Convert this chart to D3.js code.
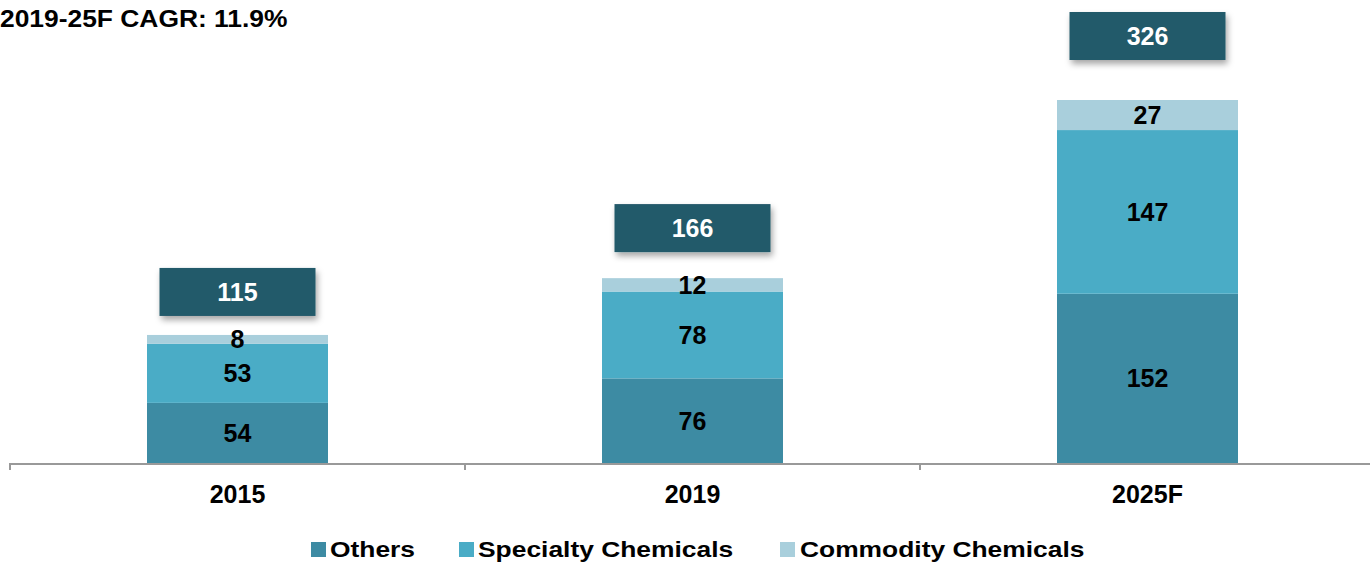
<!DOCTYPE html>
<html>
<head>
<meta charset="utf-8">
<script src="https://cdn.jsdelivr.net/npm/d3@7"></script>
<style>
  html, body { margin: 0; padding: 0; background: #fff; }
  svg { display: block; font-family: Arial, "Liberation Sans", sans-serif; }
</style>
</head>
<body>
<svg id="chart" width="1370" height="563"></svg>
<script>
// Market size by segment
const years = ["2015", "2019", "2025F"];
const others = [54, 76, 152];
const specialty = [53, 78, 147];
const commodity = [8, 12, 27];
const totals = [115, 166, 326];
const seriesNames = ["Others", "Specialty Chemicals", "Commodity Chemicals"];
const titleText = "2019-25F CAGR: 11.9%";

const colors = ["#3d8ba3", "#4aacc6", "#a9cfdc"];
const boxColor = "#225a6b";

const W = 1370, H = 563;
const baseY = 463;
const numSize = 25;

const svg = d3.select("#chart");

const defs = svg.append("defs");
const f = defs.append("filter").attr("id", "shadow")
  .attr("x", "-10%").attr("y", "-20%").attr("width", "130%").attr("height", "160%");
f.append("feDropShadow").attr("dx", 2).attr("dy", 4).attr("stdDeviation", 3)
  .attr("flood-color", "#000").attr("flood-opacity", 0.35);

const x = d3.scaleBand().domain(years).range([10, 1375])
  .paddingInner(0.6022).paddingOuter(0.3011);
const y = d3.scaleLinear().domain([0, 326]).range([baseY, 100]);

// stack the series
const rows = years.map((yr, i) => ({ year: yr, Others: others[i], Specialty: specialty[i], Commodity: commodity[i] }));
const keys = ["Others", "Specialty", "Commodity"];
const stacked = d3.stack().keys(keys)(rows);

const layers = svg.append("g").selectAll("g").data(stacked).join("g")
  .attr("fill", (d, i) => colors[i]);

layers.selectAll("rect").data(d => d).join("rect")
  .attr("x", d => x(d.data.year))
  .attr("width", x.bandwidth())
  .attr("y", d => y(d[1]))
  .attr("height", d => y(d[0]) - y(d[1]));

// segment value labels
stacked.forEach(layer => {
  svg.append("g").selectAll("text").data(layer).join("text")
    .attr("x", d => x(d.data.year) + x.bandwidth() / 2)
    .attr("y", d => (y(d[0]) + y(d[1])) / 2)
    .attr("dy", "0.36em")
    .attr("text-anchor", "middle")
    .attr("font-size", numSize)
    .attr("font-weight", "bold")
    .attr("fill", "#000")
    .text(d => d[1] - d[0]);
});

// total boxes above each bar
const boxW = 156, boxH = 48;
const gapScale = d3.scaleLinear().domain([115, 326]).range([43, 64]);
const boxes = svg.append("g").selectAll("g").data(years).join("g")
  .attr("transform", (yr, i) => {
    const cx = x(yr) + x.bandwidth() / 2;
    const cy = y(totals[i]) - gapScale(totals[i]) - (i === 1 ? 2 : 0);
    return `translate(${cx},${cy})`;
  });
boxes.append("rect")
  .attr("x", -boxW / 2).attr("y", -boxH / 2)
  .attr("width", boxW).attr("height", boxH)
  .attr("fill", boxColor)
  .attr("filter", "url(#shadow)");
boxes.append("text")
  .attr("text-anchor", "middle")
  .attr("dy", "0.36em")
  .attr("font-size", numSize)
  .attr("font-weight", "bold")
  .attr("fill", "#fff")
  .text((yr, i) => totals[i]);

// category axis
const axis = svg.append("g").attr("stroke", "#999").attr("stroke-width", 2);
axis.append("line").attr("x1", 10).attr("x2", W).attr("y1", baseY + 1).attr("y2", baseY + 1);
years.forEach(yr => {
  const tx = x(yr) - x.step() * x.paddingOuter();
  axis.append("line").attr("x1", tx).attr("x2", tx).attr("y1", baseY).attr("y2", baseY + 7);
});
svg.append("g").selectAll("text").data(years).join("text")
  .attr("x", d => x(d) + x.bandwidth() / 2)
  .attr("y", 503)
  .attr("text-anchor", "middle")
  .attr("font-size", numSize)
  .attr("font-weight", "bold")
  .text(d => d);

// title (slightly widened type)
svg.append("g").attr("transform", "translate(0,27) scale(1.1,1)")
  .append("text")
  .attr("font-size", 24)
  .attr("font-weight", "bold")
  .text(titleText);

// legend (widened type)
const legendPos = [{ sx: 311, tx: 330 }, { sx: 459, tx: 478 }, { sx: 780, tx: 800 }];
const legend = svg.append("g").selectAll("g").data(seriesNames).join("g");
legend.append("rect")
  .attr("x", (d, i) => legendPos[i].sx).attr("y", 542)
  .attr("width", 15).attr("height", 15)
  .attr("fill", (d, i) => colors[i]);
legend.append("g")
  .attr("transform", (d, i) => `translate(${legendPos[i].tx},557) scale(1.2,1)`)
  .append("text")
  .attr("font-size", 22)
  .attr("font-weight", "bold")
  .text(d => d);
</script>
</body>
</html>
